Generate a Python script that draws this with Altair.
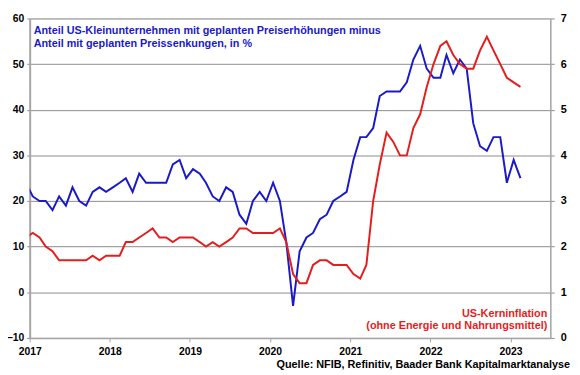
import altair as alt
import pandas as pd

# Monthly data, Dec 2016 .. Feb 2023 (points placed mid-month)
months = pd.date_range("2016-12-01", "2023-02-01", freq="MS")

# NFIB: share of small businesses planning price increases minus share planning decreases (%)
nfib = [24,
        21, 20, 20, 18, 21, 19, 23, 20, 19, 22, 23, 22,
        23, 24, 25, 22, 26, 24, 24, 24, 24, 28, 29, 25,
        27, 26, 24, 21, 20, 23, 22, 17, 15, 20, 22, 20,
        24, 20, 11, -3, 9, 12, 13, 16, 17, 20, 21, 22,
        29, 34, 34, 36, 43, 44, 44, 44, 46, 51, 54, 49,
        47, 47, 52, 48, 51, 49, 37, 32, 31, 34, 34, 24,
        29, 25]

# US core CPI inflation (% y/y)
core_cpi = [2.2,
            2.3, 2.2, 2.0, 1.9, 1.7, 1.7, 1.7, 1.7, 1.7, 1.8, 1.7, 1.8,
            1.8, 1.8, 2.1, 2.1, 2.2, 2.3, 2.4, 2.2, 2.2, 2.1, 2.2, 2.2,
            2.2, 2.1, 2.0, 2.1, 2.0, 2.1, 2.2, 2.4, 2.4, 2.3, 2.3, 2.3,
            2.3, 2.4, 2.1, 1.4, 1.2, 1.2, 1.6, 1.7, 1.7, 1.6, 1.6, 1.6,
            1.4, 1.3, 1.6, 3.0, 3.8, 4.5, 4.3, 4.0, 4.0, 4.6, 4.9, 5.5,
            6.0, 6.4, 6.5, 6.2, 6.0, 5.9, 5.9, 6.3, 6.6, 6.3, 6.0, 5.7,
            5.6, 5.5]

years = list(range(2017, 2024))
left_ticks = [-10, 0, 10, 20, 30, 40, 50, 60]
right_ticks = [0, 1, 2, 3, 4, 5, 6, 7]

blue_label = ["Anteil US-Kleinunternehmen mit geplanten Preiserhöhungen minus",
              "Anteil mit geplanten Preissenkungen, in %"]
red_label = ["US-Kerninflation", "(ohne Energie und Nahrungsmittel)"]
source_label = "Quelle: NFIB, Refinitiv, Baader Bank Kapitalmarktanalyse"

BLUE = "#1a1ac8"
RED = "#e41e1e"
GRID = "#8c8c8c"
FONT = "Liberation Sans"

df = pd.DataFrame({
    "date": [(m + pd.Timedelta(days=14)).strftime("%Y-%m-%d") for m in months],
    "nfib": nfib,
    "cpi": core_cpi,
})
one = pd.DataFrame({"k": [0]})

x_enc = alt.X(
    "date:T",
    scale=alt.Scale(domain=[alt.DateTime(year=2017, month=1, date=1),
                            alt.DateTime(year=2023, month=7, date=1)]),
    axis=alt.Axis(values=[alt.DateTime(year=y, month=1, date=1) for y in years],
                  format="%Y", title=None, grid=False, labelFontSize=10.5,
                  labelFontWeight="bold", labelColor="black", labelFont=FONT,
                  domainColor="#a6a6a6", domainWidth=1.5, tickColor="#a6a6a6",
                  tickSize=4, labelPadding=5, labelFlush=False),
)

base = alt.Chart(df)

blue = base.mark_line(color=BLUE, strokeWidth=2, clip=True).encode(
    x=x_enc,
    y=alt.Y("nfib:Q", scale=alt.Scale(domain=[-10, 60], nice=False, zero=False),
            axis=alt.Axis(values=left_ticks, title=None, grid=True, gridColor=GRID,
                          gridWidth=1, labelFontSize=10.5, labelFontWeight="bold",
                          labelColor="black", labelFont=FONT, domainColor="#a6a6a6",
                          domainWidth=2, tickColor=GRID, tickSize=3, labelPadding=3)),
)

red = base.mark_line(color=RED, strokeWidth=2, clip=True).encode(
    x=x_enc,
    y=alt.Y("cpi:Q", scale=alt.Scale(domain=[0, 7], nice=False, zero=False),
            axis=alt.Axis(values=right_ticks, orient="right", title=None, grid=False,
                          labelFontSize=11, labelFontWeight="bold", labelColor="black",
                          labelFont=FONT, domainColor="#a6a6a6", domainWidth=1.5,
                          tickColor=GRID, tickSize=4, labelPadding=6)),
)

blue_text = alt.Chart(one).mark_text(
    text=blue_label, align="left", baseline="alphabetic", font=FONT, fontSize=11,
    fontWeight="bold", color=BLUE, lineHeight=13,
).encode(x=alt.value(4), y=alt.value(15.7))

red_text = alt.Chart(one).mark_text(
    text=red_label, align="right", baseline="alphabetic", font=FONT, fontSize=11,
    fontWeight="bold", color=RED, lineHeight=12,
).encode(x=alt.value(525), y=alt.value(303))

source_text = alt.Chart(one).mark_text(
    text=source_label, align="right", baseline="alphabetic", font=FONT, fontSize=11,
    fontWeight="bold", color="black",
).encode(x=alt.value(548), y=alt.value(354.5))

lines = alt.layer(blue, red).resolve_scale(y="independent")

chart = alt.layer(lines, blue_text, red_text, source_text).properties(
    width=528, height=324,
    autosize=alt.AutoSizeParams(type="none"),
    padding={"left": 22, "top": 8, "right": 22, "bottom": 35},
).configure_view(stroke=None).configure(background="white")

chart.save("out.html", embed_options={"renderer": "svg", "actions": False})
